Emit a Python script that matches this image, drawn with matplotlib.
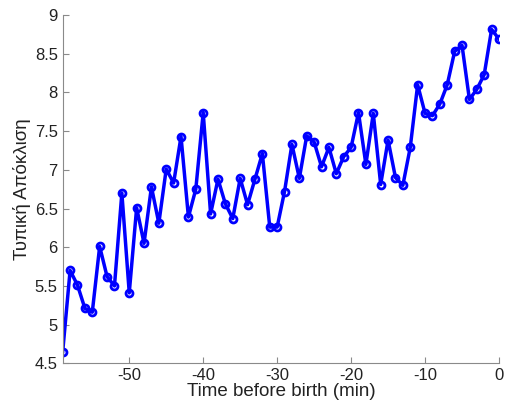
import matplotlib
matplotlib.use("Agg")
import matplotlib.pyplot as plt
from matplotlib.ticker import FuncFormatter

minutes = list(range(-59, 1))
std_dev = [4.65, 5.70, 5.51, 5.21, 5.16, 6.01, 5.62, 5.50, 6.70, 5.41,
           6.51, 6.05, 6.78, 6.31, 7.01, 6.83, 7.43, 6.39, 6.75, 7.74,
           6.43, 6.88, 6.56, 6.37, 6.89, 6.55, 6.88, 7.21, 6.26, 6.26,
           6.72, 7.33, 6.89, 7.44, 7.36, 7.04, 7.29, 6.95, 7.17, 7.29,
           7.74, 7.07, 7.73, 6.81, 7.385, 6.90, 6.80, 7.29, 8.10, 7.73,
           7.70, 7.85, 8.10, 8.53, 8.61, 7.91, 8.04, 8.23, 8.815, 8.69]
xticks = [-50, -40, -30, -20, -10, 0]
yticks = [4.5, 5, 5.5, 6, 6.5, 7, 7.5, 8, 8.5, 9]
xlabel = "Time before birth (min)"
ylabel = "Τυπική Απόκλιση"

plt.rcParams['font.family'] = ['Liberation Sans', 'DejaVu Sans']
plt.rcParams['axes.unicode_minus'] = False

fig = plt.figure(figsize=(5.11, 4.08), dpi=100)
ax = fig.add_axes([0.1227, 0.1096, 0.8538, 0.8534])
ax.plot(minutes, std_dev, color='#0000ff', linewidth=2.5,
        marker='o', markersize=5, markerfacecolor='none',
        markeredgecolor='#0000ff', markeredgewidth=2.0)
ax.set_xlim(-59, 0)
ax.set_ylim(4.5, 9)
ax.set_xticks(xticks)
ax.set_yticks(yticks)
ax.yaxis.set_major_formatter(FuncFormatter(lambda v, p: f"{v:g}"))
for s in ['top', 'right']:
    ax.spines[s].set_visible(False)
for s in ['left', 'bottom']:
    ax.spines[s].set_color('#8a8a8a')
    ax.spines[s].set_linewidth(0.8)
ax.tick_params(direction='in', length=4, width=0.8, color='#8a8a8a',
               labelsize=12, labelcolor='#222222')
ax.set_xlabel(xlabel, fontsize=13.5, color='#222222', labelpad=0)
ax.set_ylabel(ylabel, fontsize=13.5, color='#222222', labelpad=3)
fig.savefig('out.png', dpi=100)
